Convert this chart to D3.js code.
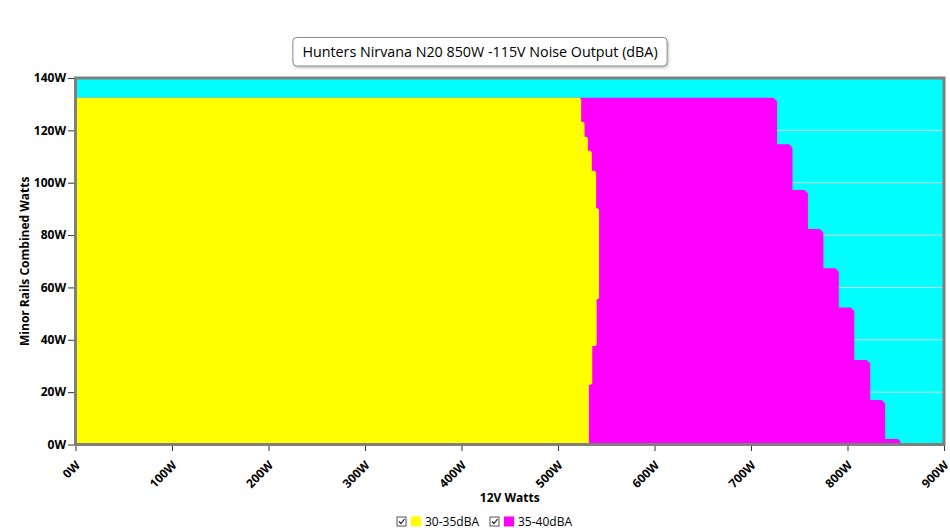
<!DOCTYPE html>
<html><head><meta charset="utf-8">
<script src="https://cdn.jsdelivr.net/npm/d3@7"></script>
<style>
body{margin:0;background:#fff;}
svg text{font-family:"Open Sans",sans-serif;fill:#000;}
</style>
</head><body>
<svg id="chart" width="950" height="530"></svg>
<script>
// ---------- data ----------
const chartTitle = "Hunters Nirvana N20 850W -115V Noise Output (dBA)";
const xTitle = "12V Watts";
const yTitle = "Minor Rails Combined Watts";
const xTickValues = [0, 100, 200, 300, 400, 500, 600, 700, 800, 900];
const yTickValues = [0, 20, 40, 60, 80, 100, 120, 140];
const seriesNames = ["30-35dBA", "35-40dBA"];
const seriesColors = ["#ffff00", "#ff00ff"];
const backgroundColor = "#00ffff";

// 30-35dBA band: top of each minor-rail step (W) and 12V limit (W) for it
const quietMinorTop = [132.5, 123.3, 117.6, 112.2, 104.6, 90.2, 55.5, 37.6, 22.8];
const quiet12V      = [524,   527.5, 531,   535,   539.5, 542.5, 540,  535.5, 532];
// 35-40dBA band
const loudMinorTop  = [132.5, 114.7, 97.2, 82.3, 67.3, 52.3, 32.3, 17.0, 2.1];
const loud12V       = [727,   743,   759,  775,  791,  807,  823.5, 839, 855];

// ---------- layout ----------
const svg = d3.select("#chart");
const plot = {left: 75.5, right: 944, top: 78, bottom: 444.5};
const x = d3.scaleLinear().domain([0, 900]).range([plot.left, plot.right]);
const y = d3.scaleLinear().domain([0, 140]).range([plot.bottom, plot.top]);

const defs = svg.append("defs");
const f = defs.append("filter").attr("id", "sh").attr("x", "-10%").attr("y", "-30%").attr("width", "120%").attr("height", "170%");
f.append("feDropShadow").attr("dx", 1).attr("dy", 1.5).attr("stdDeviation", 1.2).attr("flood-color", "#000").attr("flood-opacity", 0.25);

// background
svg.append("rect").attr("x", plot.left).attr("y", plot.top)
  .attr("width", plot.right - plot.left).attr("height", plot.bottom - plot.top)
  .attr("fill", backgroundColor);

// gridlines
svg.append("g").selectAll("line").data(yTickValues.filter(d => d > 0 && d < 140)).join("line")
  .attr("x1", plot.left).attr("x2", plot.right)
  .attr("y1", d => y(d)).attr("y2", d => y(d))
  .attr("stroke", "#d2d2d2").attr("stroke-width", 1);

// step polygon builder with small bevelled outer corners
function stepPolygon(tops, vals, bevel) {
  const raw = [[x(0), y(tops[0])]];
  tops.forEach((t, i) => {
    const b = i + 1 < tops.length ? tops[i + 1] : 0;
    raw.push([x(vals[i]), y(t)]);
    raw.push([x(vals[i]), y(b)]);
  });
  raw.push([x(0), y(0)]);
  const n = raw.length, out = [];
  for (let i = 0; i < n; i++) {
    const c = raw[i], p = raw[(i - 1 + n) % n], q = raw[(i + 1) % n];
    const ax = c[0] - p[0], ay = c[1] - p[1], bx = q[0] - c[0], by = q[1] - c[1];
    const cross = ax * by - ay * bx;
    const onEdge = Math.abs(c[0] - x(0)) < 0.01 || Math.abs(c[1] - y(0)) < 0.01;
    if (cross > 0 && !onEdge) {
      const la = Math.hypot(ax, ay), lb = Math.hypot(bx, by);
      const d = Math.min(bevel, la / 2, lb / 2);
      out.push([c[0] - ax / la * d, c[1] - ay / la * d]);
      out.push([c[0] + bx / lb * d, c[1] + by / lb * d]);
    } else out.push(c);
  }
  return out;
}
const line = d3.line().curve(d3.curveLinearClosed);
svg.append("path").attr("d", line(stepPolygon(loudMinorTop, loud12V, 3.5))).attr("fill", seriesColors[1]);
svg.append("path").attr("d", line(stepPolygon(quietMinorTop, quiet12V, 1.5))).attr("fill", seriesColors[0]);

// frame
svg.append("rect").attr("x", plot.left).attr("y", plot.top)
  .attr("width", plot.right - plot.left).attr("height", plot.bottom - plot.top)
  .attr("fill", "none").attr("stroke", "#7f7f7f").attr("stroke-width", 3);

// y axis
const yAxis = svg.append("g").attr("transform", `translate(${plot.left - 1.5},0)`)
  .call(d3.axisLeft(y).tickValues(yTickValues).tickFormat(d => d + "W").tickSize(6).tickPadding(2));
yAxis.select(".domain").remove();
yAxis.selectAll(".tick line").attr("stroke", "#333");
yAxis.selectAll(".tick text").attr("font-size", 12).attr("font-weight", "bold").attr("font-family", "Open Sans");

// x axis
const xAxis = svg.append("g").attr("transform", `translate(0,${plot.bottom + 1.5})`)
  .call(d3.axisBottom(x).tickValues(xTickValues).tickFormat(d => d + "W").tickSize(5).tickPadding(2));
xAxis.select(".domain").remove();
xAxis.selectAll(".tick line").attr("stroke", "#333");
xAxis.selectAll(".tick text").attr("font-size", 12).attr("font-weight", "bold").attr("font-family", "Open Sans")
  .attr("text-anchor", "end").attr("dy", "0.35em")
  .attr("transform", "translate(-3,12) rotate(-45)");

// axis titles
svg.append("text").attr("x", (plot.left + plot.right) / 2).attr("y", 502)
  .attr("text-anchor", "middle").attr("font-size", 12).attr("font-weight", "bold").text(xTitle);
svg.append("text").attr("transform", `translate(29,${(plot.top + plot.bottom) / 2}) rotate(-90)`)
  .attr("text-anchor", "middle").attr("font-size", 12).attr("font-weight", "bold").text(yTitle);

// title box
const tg = svg.append("g");
const tRect = tg.append("rect").attr("rx", 4).attr("ry", 4).attr("fill", "#fff")
  .attr("stroke", "#8a8a8a").attr("stroke-width", 1).attr("filter", "url(#sh)");
const tText = tg.append("text").attr("x", 480).attr("y", 56.5).attr("text-anchor", "middle")
  .attr("font-size", 14.3).text(chartTitle);
const tw = tText.node().getComputedTextLength();
tRect.attr("x", 480 - tw / 2 - 9.5).attr("y", 37.5).attr("width", tw + 19).attr("height", 28.5);

// legend
const legendX = [396.5, 489.5];
const lg = svg.append("g").selectAll("g").data(seriesNames).join("g")
  .attr("transform", (d, i) => `translate(${legendX[i]},516.5)`);
lg.append("rect").attr("x", 0.5).attr("y", 0.5).attr("width", 9).attr("height", 9)
  .attr("fill", "#fff").attr("stroke", "#555");
lg.append("path").attr("d", "M2.5,5 L4.5,7 L8,2.5").attr("fill", "none").attr("stroke", "#222").attr("stroke-width", 1.2);
lg.append("rect").attr("x", 14.5).attr("y", 0).attr("width", 10).attr("height", 10)
  .attr("fill", (d, i) => seriesColors[i]);
lg.append("text").attr("x", 28.5).attr("y", 9.5).attr("font-size", 12).text(d => d);
</script>
</body></html>
